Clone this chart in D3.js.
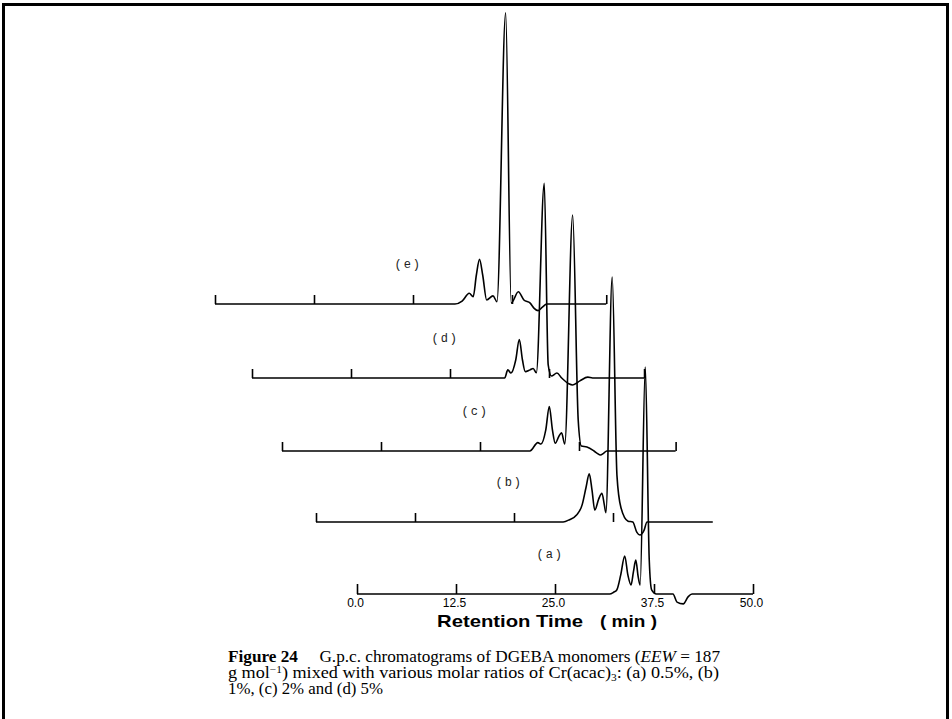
<!DOCTYPE html>
<html>
<head>
<meta charset="utf-8">
<script src="https://cdn.jsdelivr.net/npm/d3@7"></script>
<style>
  body { margin: 0; background: #fff; }
  svg { display: block; }
</style>
</head>
<body>
<svg id="chart" width="952" height="719"></svg>
<script>
// gpc chromatograms, stacked with a skew (each trace shifted left/up)
// points are [retention time (min), detector response (arb. units)]
const traceA = [[0,0],[31.9,0],[32.4,0.6],[32.8,1.4],[33.3,6.6],[33.8,13.1],[34.2,6.6],[34.6,3.1],[34.9,7.6],[35.2,11.7],[35.5,6],[35.75,3.1],[36.4,78.3],[36.9,11.7],[37.2,1.4],[37.8,0],[39.9,0],[40.4,-2.8],[41.2,-3.4],[41.8,-1],[42.3,0],[50,0]];
const traceB = [[0,0],[31.2,0],[32.0,0.8],[32.9,2.4],[33.6,5.9],[34.1,12],[34.5,16.6],[34.85,11],[35.2,4.1],[35.7,8],[36.1,9.9],[36.4,6],[36.6,3.2],[37.4,84.5],[38.0,16],[38.5,5],[39.4,0.3],[40.0,0],[40.5,-3.5],[40.9,-4.5],[41.4,-3],[41.8,0],[50.1,0]];
const traceC = [[0,0],[31.3,0],[32.3,2.9],[32.7,2.4],[33.3,7.2],[33.75,15.3],[34.15,7.2],[34.5,2.7],[34.95,5],[35.3,6.3],[35.7,2.4],[36.7,81.4],[37.4,10.7],[37.8,1.7],[38.5,1.4],[39.4,0],[39.8,-0.8],[40.2,-1.4],[40.6,-0.8],[41.0,0],[49.7,0]];
const traceD = [[0,0],[31.9,0],[32.3,2.8],[32.7,1.7],[33.3,6.2],[33.75,13.3],[34.15,6.2],[34.5,2.2],[35.1,2.8],[35.5,3.3],[35.9,1.8],[36.9,67.1],[37.4,4.5],[37.8,0.7],[38.5,1.7],[39.1,0],[40.0,-2],[40.5,-2.4],[41.4,-1],[42.4,0.3],[43.0,0],[49.5,0]];
const traceE = [[0,0],[30.3,0],[31.2,1.0],[32.1,3.7],[32.6,2.5],[33.0,10],[33.4,15.4],[33.8,10],[34.3,1.4],[35.1,2.8],[35.6,0.8],[36.7,100.4],[37.4,0.3],[38.3,4.2],[39.0,1.4],[39.8,0.3],[40.3,-1.5],[40.8,-2.3],[41.3,-1.2],[41.9,0],[49.4,0]];

const traceLabels = ["(a)", "(b)", "(c)", "(d)", "(e)"];
const tickValues = [0, 12.5, 25, 37.5];
const labelledTicks = [0, 12.5, 25, 37.5, 50];
const axisEnds = [50, null, 49.7, 49.5, 49.4];   // end tick (min), null = none

const xLabel = "Retention Time";
const xUnit = "( min )";

// offset of every trace origin on the page
const series = [
  { pts: traceA, ox: 357, oy: 594 },
  { pts: traceB, ox: 316, oy: 522 },
  { pts: traceC, ox: 282, oy: 451 },
  { pts: traceD, ox: 252, oy: 378 },
  { pts: traceE, ox: 215, oy: 304 },
].map((s, i) => ({ ...s, label: traceLabels[i], end: axisEnds[i] }));

const svg = d3.select("#chart");

// page frame
svg.append("rect")
  .attr("x", 3.5).attr("y", 4.5)
  .attr("width", 944).attr("height", 740)
  .attr("fill", "none").attr("stroke", "#000").attr("stroke-width", 3);

const x = d3.scaleLinear().domain([0, 50]).range([0, 396]);
const y = d3.scaleLinear().domain([0, 100]).range([0, -290]);

const line = d3.line()
  .x((d) => x(d[0]))
  .y((d) => y(d[1]))
  .curve(d3.curveMonotoneX);

// back to front: (e) first
series.slice().reverse().forEach((s) => {
  const isA = s.label === "(a)";
  const g = svg.append("g").attr("transform", `translate(${s.ox},${s.oy})`);

  const ticks = isA ? labelledTicks : tickValues.concat(s.end != null ? [s.end] : []);
  const axis = d3.axisBottom(x)
    .tickValues(ticks)
    .tickSizeInner(isA ? -10 : -9)
    .tickSizeOuter(0)
    .tickPadding(4)
    .tickFormat(isA ? d3.format(".1f") : "");

  g.append("g")
    .call(axis)
    .call((a) => a.select(".domain").remove())
    .call((a) => a.selectAll(".tick line").attr("stroke", "#000").attr("stroke-width", 1.6))
    .call((a) => a.selectAll(".tick text")
      .attr("fill", "#000")
      .attr("dx", "-2")
      .style("font-family", "'Liberation Sans Narrow', 'Arial Narrow', 'Liberation Sans', sans-serif")
      .style("font-size", "12px"));

  g.append("path")
    .datum(s.pts)
    .attr("d", line)
    .attr("fill", "none")
    .attr("stroke", "#000")
    .attr("stroke-width", 1.6)
    .attr("stroke-linejoin", "round");

  g.append("text")
    .attr("x", x(24.4))
    .attr("y", -36)
    .attr("text-anchor", "middle")
    .style("font-family", "'Liberation Mono', 'DejaVu Sans Mono', monospace")
    .style("font-size", "12px")
    .style("letter-spacing", "2px")
    .attr("fill", "#222")
    .text(s.label);
});

// axis title
const titleFont = "'Liberation Sans', Arial, sans-serif";
svg.append("text")
  .attr("x", 437).attr("y", 627)
  .attr("textLength", 146).attr("lengthAdjust", "spacingAndGlyphs")
  .style("font-family", titleFont).style("font-weight", "900").style("font-size", "17px")
  .text(xLabel);
svg.append("text")
  .attr("x", 600).attr("y", 627)
  .attr("textLength", 57).attr("lengthAdjust", "spacingAndGlyphs")
  .style("font-family", titleFont).style("font-weight", "900").style("font-size", "17px")
  .text(xUnit);

// caption
const cap = svg.append("g")
  .style("font-family", "'Liberation Serif', 'Times New Roman', serif")
  .style("font-size", "16px")
  .attr("fill", "#000");

const l1 = cap.append("text").attr("x", 228).attr("y", 662)
  .attr("textLength", 492).attr("lengthAdjust", "spacingAndGlyphs");
l1.append("tspan").style("font-weight", "bold").text("Figure 24");
l1.append("tspan").text("\u2003 G.p.c. chromatograms of DGEBA monomers (");
l1.append("tspan").style("font-style", "italic").text("EEW");
l1.append("tspan").text(" = 187");

const l2 = cap.append("text").attr("x", 228).attr("y", 678)
  .attr("textLength", 491).attr("lengthAdjust", "spacingAndGlyphs");
l2.append("tspan").text("g mol");
l2.append("tspan").attr("dy", -5).style("font-size", "10px").text("\u22121");
l2.append("tspan").attr("dy", 5).text(") mixed with various molar ratios of Cr(acac)");
l2.append("tspan").attr("dy", 3).style("font-size", "10px").text("3");
l2.append("tspan").attr("dy", -3).text(": (a) 0.5%, (b)");

cap.append("text").attr("x", 228).attr("y", 694)
  .attr("textLength", 155).attr("lengthAdjust", "spacingAndGlyphs")
  .text("1%, (c) 2% and (d) 5%");
</script>
</body>
</html>
